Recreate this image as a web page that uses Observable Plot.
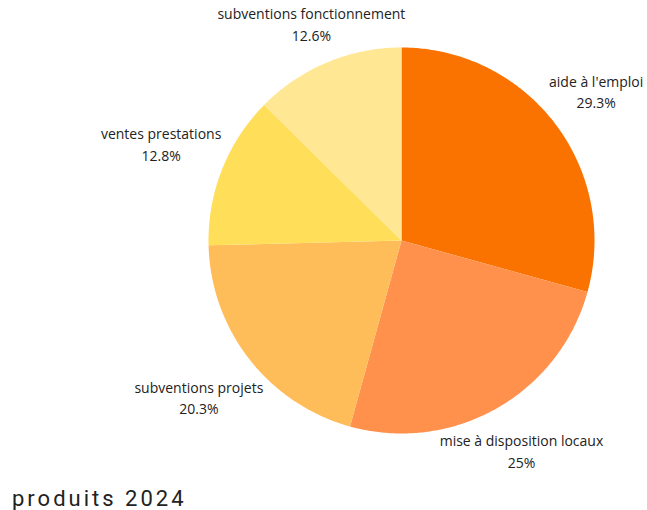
<!DOCTYPE html>
<html>
<head>
<meta charset="utf-8">
<script src="https://cdn.jsdelivr.net/npm/d3@7"></script>
<script src="https://cdn.jsdelivr.net/npm/@observablehq/plot@0.6"></script>
<style>
  html, body { margin: 0; padding: 0; background: #fff; }
  #title { font-family: Roboto, sans-serif; font-size: 22px; letter-spacing: 3px; color: #222; margin: 7px 0 0 12px; line-height: 24px; }
</style>
</head>
<body>
<div id="chart"></div>
<div id="title">produits 2024</div>
<script>
const categories = ["aide à l'emploi", "mise à disposition locaux", "subventions projets", "ventes prestations", "subventions fonctionnement"];
const values = [29.3, 25, 20.3, 12.8, 12.6];
const colors = ["#FA7300", "#FF914D", "#FFBD59", "#FFDE59", "#FFE794"];

const rows = categories.map((c, i) => ({label: c, value: values[i], color: colors[i]}));
const arcs = d3.pie().sort(null).value(d => d.value)(rows);

const R = 193;               // pie radius in pixels
const fontSize = 14;
const lineH = 1.55;
const fontFamily = "'Open Sans', sans-serif";

// polygon vertices for each slice (unit circle, angle from top clockwise)
const pts = [];
arcs.forEach(a => {
  const n = Math.max(2, Math.ceil((a.endAngle - a.startAngle) / 0.01));
  pts.push({label: a.data.label, x: 0, y: 0});
  for (let k = 0; k <= n; k++) {
    const t = a.startAngle + (a.endAngle - a.startAngle) * k / n;
    pts.push({label: a.data.label, x: Math.sin(t), y: Math.cos(t)});
  }
  pts.push({label: a.data.label, x: 0, y: 0});
});

// place each label box just outside the circle along the slice's mid-angle
const ctx = document.createElement("canvas").getContext("2d");
ctx.font = `${fontSize}px ${fontFamily}`;
const labels = arcs.map(a => {
  const m = (a.startAngle + a.endAngle) / 2;
  const ux = Math.sin(m), uy = Math.cos(m);
  const line1 = a.data.label, line2 = a.data.value + "%";
  const hw = Math.max(ctx.measureText(line1).width, ctx.measureText(line2).width) / 2;
  const hh = fontSize * lineH * 0.95; // half of two-line block
  const gap = R + 2;
  const near = t => Math.hypot(Math.max(0, Math.abs(t * ux) - hw), Math.max(0, Math.abs(t * uy) - hh));
  let lo = 0, hi = 3 * R;
  for (let i = 0; i < 60; i++) { const mid = (lo + hi) / 2; if (near(mid) < gap) lo = mid; else hi = mid; }
  return {x: lo * ux / R, y: lo * uy / R, text: line1 + "\n" + line2};
});

const chart = Plot.plot({
  width: 647,
  height: 480,
  margin: 0,
  x: {domain: [-1, 1], range: [401 - R, 401 + R], axis: null},
  y: {domain: [-1, 1], range: [240 + R, 240 - R], axis: null},
  color: {domain: categories, range: colors},
  style: {fontFamily},
  marks: [
    Plot.line(pts, {x: "x", y: "y", z: "label", fill: "label", stroke: null, curve: "linear"}),
    Plot.text(labels, {x: "x", y: "y", dy: -2, text: "text", fontSize, fill: "#222", textAnchor: "middle", lineAnchor: "middle", lineHeight: lineH})
  ]
});
document.getElementById("chart").appendChild(chart);
</script>
</body>
</html>
